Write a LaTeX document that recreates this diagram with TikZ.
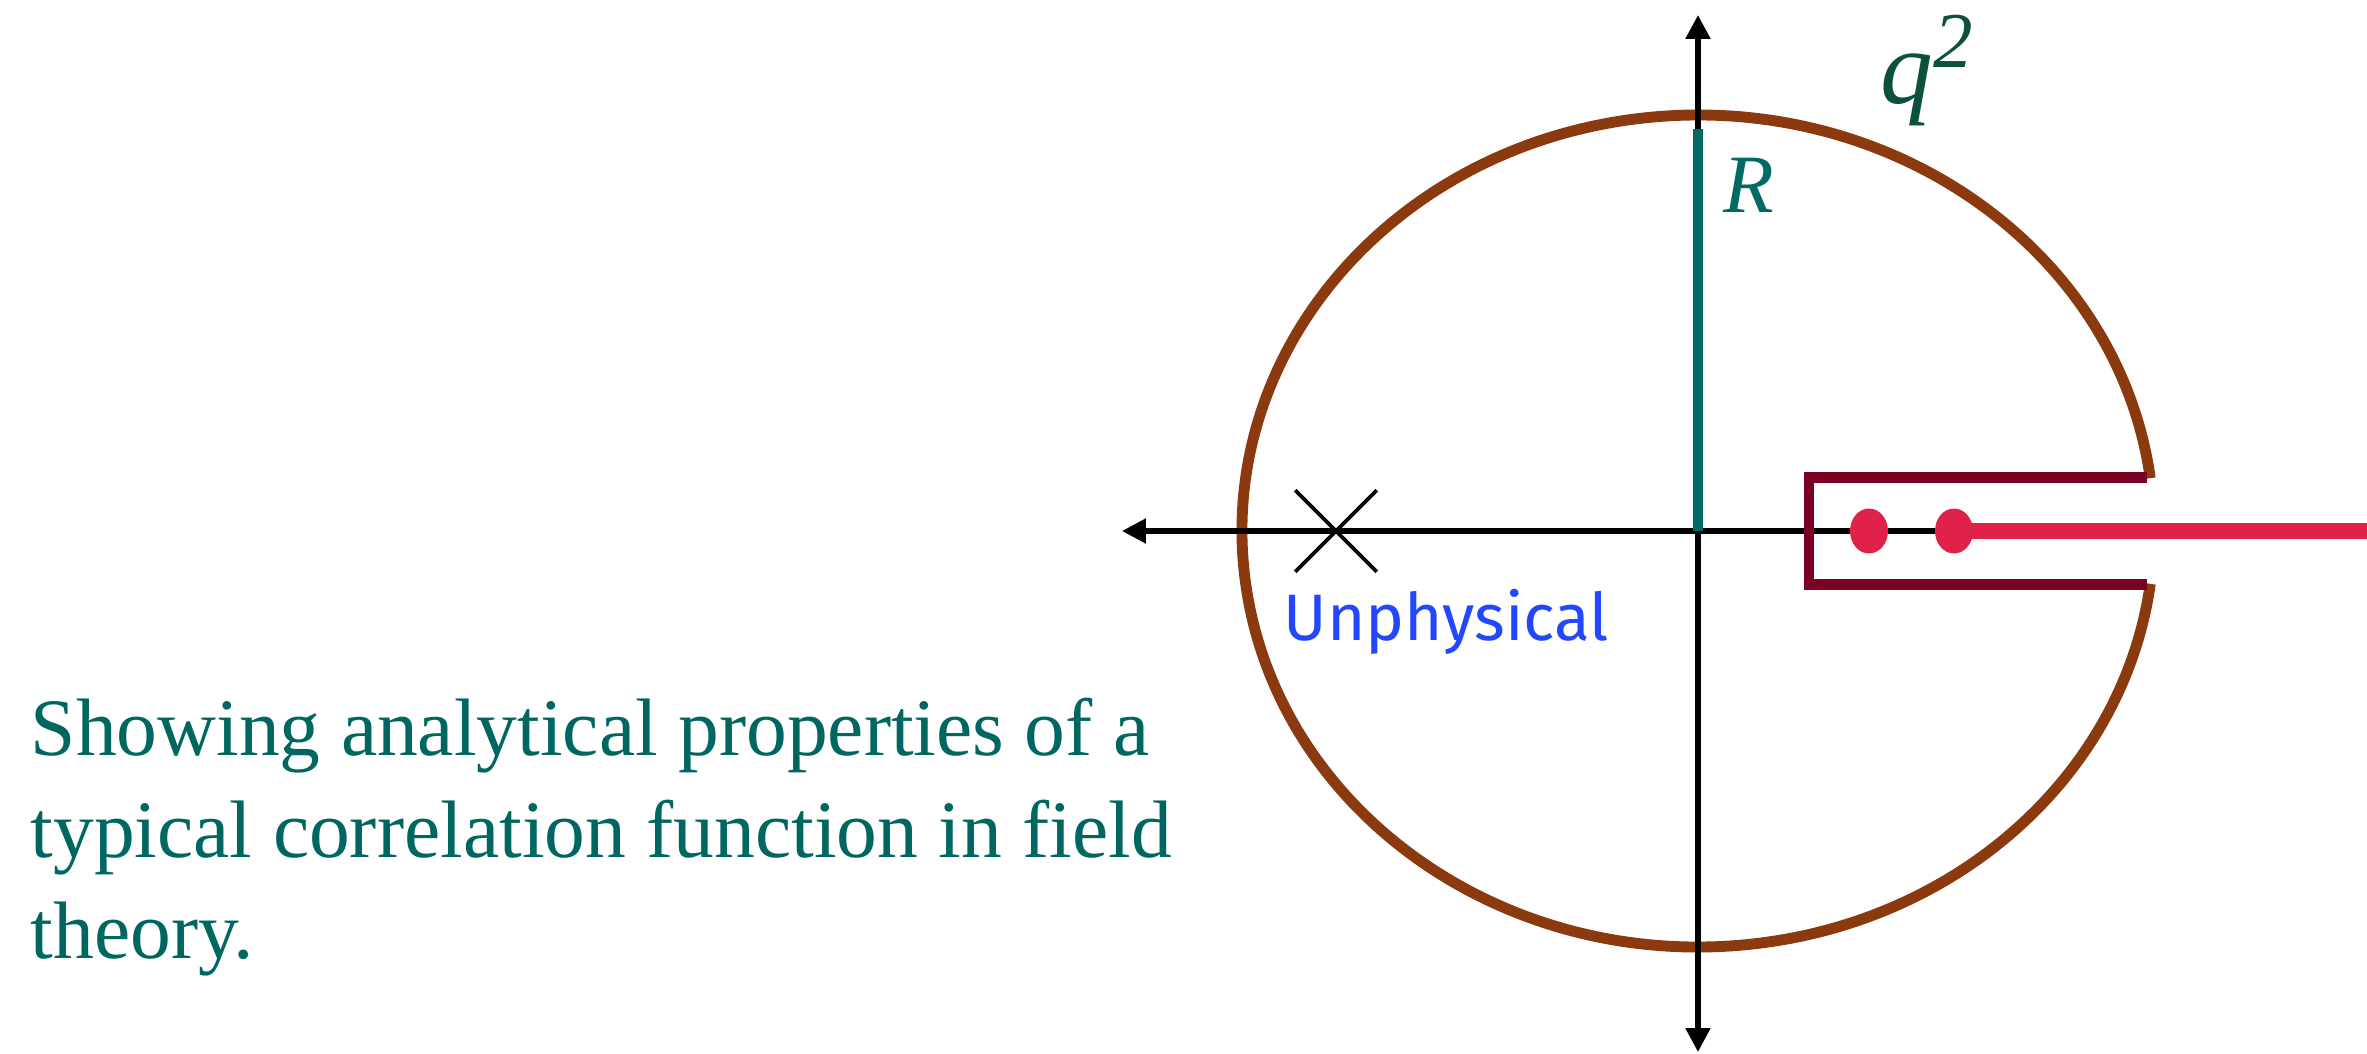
\documentclass[tikz,border=0pt]{standalone}
\usepackage{fontspec}
\setmainfont{Liberation Serif}
\newfontfamily\labelfont{Fira Sans}
\usetikzlibrary{arrows.meta,shapes.geometric,shapes.misc}
\definecolor{rim}{RGB}{139,58,16}
\definecolor{rline}{RGB}{0,106,100}
\definecolor{plane}{RGB}{10,82,62}
\definecolor{cut}{RGB}{122,0,36}
\definecolor{pole}{RGB}{224,34,74}
\definecolor{unphys}{RGB}{35,71,255}
\definecolor{note}{RGB}{0,102,96}
\begin{document}
\begin{tikzpicture}[>={Triangle[length=6.8pt,width=6.8pt]},
  axis/.style={line width=1.5pt},
  polept/.style={ellipse, fill=pole, inner sep=0pt, minimum width=0.38cm, minimum height=0.45cm}]
\useasboundingbox (-16.98,-5.22) rectangle (6.69,5.31);
% contour
\draw[rim, line width=3.1pt] (7.3:4.56 and 4.16) arc[start angle=7.3, end angle=352.7, x radius=4.56, y radius=4.16];
% axes
\coordinate (O) at (0,0);
\coordinate (L) at (-5.76,0);
\coordinate (T) at (0,5.16);
\coordinate (Bt) at (0,-5.21);
\coordinate (E) at (6.69,0);
\draw[axis,<->] (Bt) -- (T);
\draw[axis,->] (E) -- (L);
% radius
\draw[rline, line width=2.85pt] (O) -- (0,4.02) coordinate (Rtop);
\node[anchor=base west, inner sep=0pt, text=rline, font=\fontsize{23.6}{24}\selectfont] (R) at (0.25,3.19) {\textit{R}};
\node[anchor=base west, inner sep=0pt, text=plane, font=\fontsize{30}{30}\selectfont] (q) at (1.82,4.28) {\textit{q}\raisebox{0.36cm}{\fontsize{22.5}{22}\selectfont\textit{2}}};
% cut
\draw[cut, line width=2.9pt] (4.49,0.535) -- (1.11,0.535) -- (1.11,-0.535) -- (4.49,-0.535);
\draw (1.71,0) node[polept] (P1) {};
\draw[pole, line width=4.6pt] (2.56,0) node[polept] (P2) {} -- (E);
% unphysical pole
\draw (-3.62,0) node[cross out, draw, minimum width=0.78cm, minimum height=0.78cm, inner sep=0pt, line width=1.05pt] (X) {};
\node[anchor=base west, inner sep=0pt, text=unphys, font=\labelfont\fontsize{18.7}{20}\selectfont] (U) at (-4.15,-1.09) {Unphysical};
\node[anchor=north west, align=left, inner sep=0pt, text=note, font=\fontsize{23.2}{29}\selectfont] (txt) at (-16.68,-1.66) {Showing analytical properties of a\\typical correlation function in field\\theory.};
\end{tikzpicture}
\end{document}
